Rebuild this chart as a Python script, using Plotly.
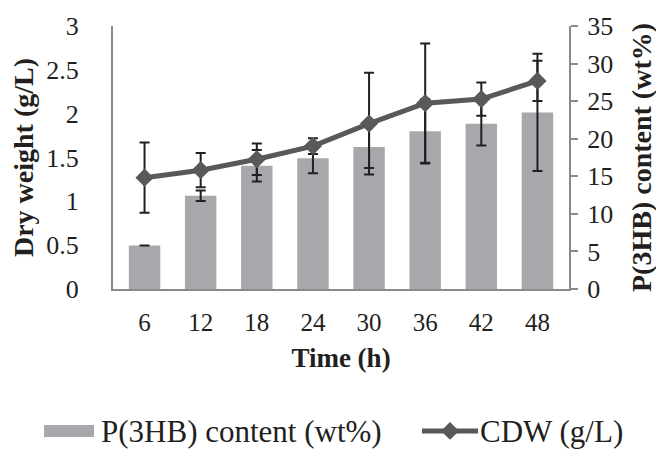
import plotly.graph_objects as go

# Cultivation time points (h)
time_h = ["6", "12", "18", "24", "30", "36", "42", "48"]

# P(3HB) content (wt%) and its standard deviation
phb_content = [5.8, 12.4, 16.4, 17.4, 18.9, 21.0, 22.0, 23.5]
phb_err = [0.0, 0.7, 2.1, 2.0, 2.8, 4.3, 2.9, 7.8]

# Cell dry weight (g/L) and its standard deviation
cdw = [1.27, 1.355, 1.48, 1.63, 1.887, 2.12, 2.166, 2.374]
cdw_err = [0.40, 0.195, 0.18, 0.09, 0.58, 0.68, 0.19, 0.23]

FONT = "Liberation Serif"
TEXT_COLOR = "#231f20"
AXIS_GREY = "#8a8a8a"
ERR_COLOR = "#231f20"
BAR_COLOR = "#a7a8ab"
LINE_COLOR = "#58595b"

W, H = 656, 449
ML, MR, MT, MB = 113, 87, 24, 160
PW, PH = W - ML - MR, H - MT - MB


def px(x):
    """Pixel x -> paper x."""
    return (x - ML) / PW


def py(y):
    """Pixel y -> paper y."""
    return (H - MB - y) / PH


fig = go.Figure()

fig.add_trace(go.Bar(
    x=time_h, y=phb_content, name="P(3HB) content (wt%)",
    marker=dict(color=BAR_COLOR, line=dict(width=0)),
    error_y=dict(type="data", array=phb_err, visible=True,
                 color=ERR_COLOR, thickness=2, width=5),
    yaxis="y",
))

fig.add_trace(go.Scatter(
    x=time_h, y=cdw, name="CDW (g/L)", mode="lines+markers",
    line=dict(color=LINE_COLOR, width=5),
    marker=dict(symbol="diamond", size=14, color=LINE_COLOR),
    error_y=dict(type="data", array=cdw_err, visible=True,
                 color=ERR_COLOR, thickness=2, width=5),
    yaxis="y2",
))

# Legend drawn below the plot: bar swatch, line-with-diamond swatch, labels
leg_y = 432
dia_x, dia_r = 450, 9
shapes = [
    dict(type="rect", xref="paper", yref="paper",
         x0=px(44), x1=px(94), y0=py(leg_y - 6), y1=py(leg_y + 6),
         fillcolor=BAR_COLOR, line=dict(width=0)),
    dict(type="line", xref="paper", yref="paper",
         x0=px(422), x1=px(478), y0=py(leg_y), y1=py(leg_y),
         line=dict(color=LINE_COLOR, width=5)),
    dict(type="path", xref="paper", yref="paper",
         path=(f"M {px(dia_x - dia_r)} {py(leg_y)} L {px(dia_x)} {py(leg_y - dia_r)} "
               f"L {px(dia_x + dia_r)} {py(leg_y)} L {px(dia_x)} {py(leg_y + dia_r)} Z"),
         fillcolor=LINE_COLOR, line=dict(width=0)),
]
annotations = [
    dict(xref="paper", yref="paper", x=px(99), y=py(leg_y + 1),
         xanchor="left", yanchor="middle", showarrow=False,
         text="P(3HB) content (wt%)", font=dict(size=31, family=FONT, color=TEXT_COLOR)),
    dict(xref="paper", yref="paper", x=px(478), y=py(leg_y + 1),
         xanchor="left", yanchor="middle", showarrow=False,
         text="CDW (g/L)", font=dict(size=31, family=FONT, color=TEXT_COLOR)),
    # Right-hand axis title
    dict(xref="paper", yref="paper", x=px(642), y=py(157),
         xanchor="center", yanchor="middle", showarrow=False, textangle=-90,
         text="<b>P(3HB) content (wt%)</b>",
         font=dict(size=28, family=FONT, color=TEXT_COLOR)),
]

fig.update_layout(
    width=W, height=H,
    margin=dict(l=ML, r=MR, t=MT, b=MB),
    paper_bgcolor="white", plot_bgcolor="white",
    font=dict(family=FONT, size=25, color=TEXT_COLOR),
    bargap=0.44,
    showlegend=False,
    shapes=shapes,
    annotations=annotations,
    xaxis=dict(
        type="category", showline=True, linecolor=AXIS_GREY, linewidth=2,
        ticks="", showgrid=False, zeroline=False,
        tickfont=dict(size=25), ticklabelstandoff=10,
        title=dict(text="<b>Time (h)</b>", font=dict(size=27), standoff=13),
    ),
    yaxis=dict(
        side="right", range=[0, 35], tickvals=[0, 5, 10, 15, 20, 25, 30, 35],
        showline=True, linecolor=AXIS_GREY, linewidth=2,
        ticks="outside", ticklen=7, tickwidth=2, tickcolor=AXIS_GREY,
        showgrid=False, zeroline=False, tickfont=dict(size=26),
        ticklabelstandoff=4,
    ),
    yaxis2=dict(
        side="left", overlaying="y", range=[0, 3],
        tickvals=[0, 0.5, 1, 1.5, 2, 2.5, 3],
        ticktext=["0", "0.5", "1", "1.5", "2", "2.5", "3"],
        showline=True, linecolor=AXIS_GREY, linewidth=2,
        ticks="", showgrid=False, zeroline=False, tickfont=dict(size=26),
        ticklabelstandoff=27,
        title=dict(text="<b>Dry weight (g/L)</b>", font=dict(size=28), standoff=4),
    ),
)

fig.write_html("out.html")
